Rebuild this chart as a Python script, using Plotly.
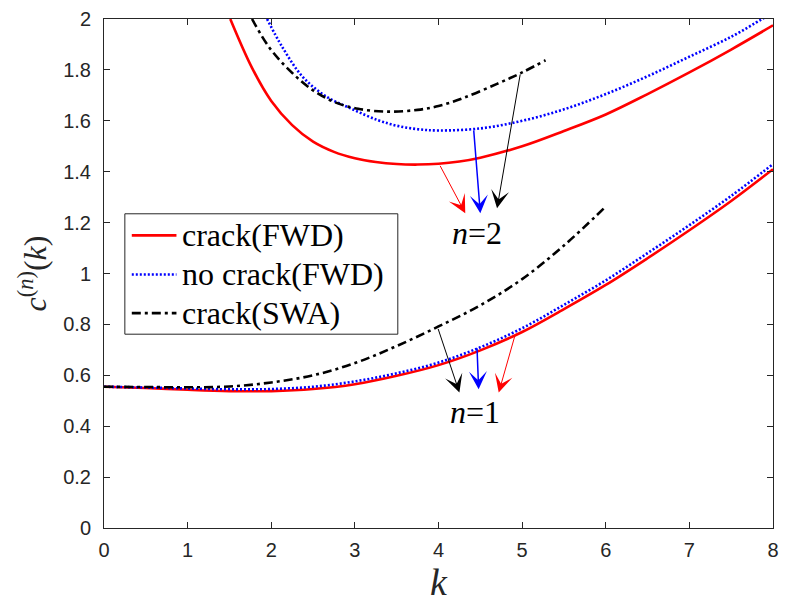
import plotly.graph_objects as go

# ---- dispersion curves, branch n = 2 ----
k_red2 = [1.51, 1.77, 2.0, 2.25, 2.5, 2.75, 3.0, 3.25, 3.5, 3.75, 4.0, 4.25, 4.5, 5.0, 5.5, 6.0, 6.5, 7.0, 7.5, 8.0]
c_red2 = [2.00, 1.808, 1.678, 1.583, 1.518, 1.478, 1.453, 1.438, 1.430, 1.428, 1.431, 1.440, 1.455, 1.500, 1.560, 1.625, 1.705, 1.790, 1.880, 1.975]

k_blue2 = [1.95, 2.13, 2.37, 2.64, 2.96, 3.28, 3.51, 3.75, 4.0, 4.5, 5.0, 5.5, 6.0, 6.5, 7.0, 7.5, 7.87, 8.0]
c_blue2 = [2.00, 1.891, 1.775, 1.699, 1.647, 1.602, 1.580, 1.567, 1.562, 1.570, 1.600, 1.645, 1.705, 1.775, 1.852, 1.930, 2.00, 2.025]

k_blk2 = [1.77, 1.97, 2.21, 2.48, 2.76, 3.04, 3.40, 3.75, 4.0, 4.3, 4.7, 5.0, 5.28]
c_blk2 = [2.00, 1.891, 1.801, 1.724, 1.673, 1.647, 1.636, 1.643, 1.658, 1.690, 1.745, 1.790, 1.838]

# ---- dispersion curves, branch n = 1 ----
k_red1 = [0, 0.5, 1.0, 1.5, 2.0, 2.5, 3.0, 3.5, 4.0, 4.5, 5.0, 5.5, 6.0, 6.5, 7.0, 7.5, 8.0]
c_red1 = [0.555, 0.550, 0.543, 0.538, 0.538, 0.546, 0.565, 0.598, 0.640, 0.698, 0.770, 0.860, 0.955, 1.060, 1.170, 1.285, 1.410]

k_blue1 = [0, 0.5, 1.0, 1.5, 2.0, 2.5, 3.0, 3.5, 4.0, 4.5, 5.0, 5.5, 6.0, 6.5, 7.0, 7.5, 8.0]
c_blue1 = [0.555, 0.552, 0.548, 0.545, 0.546, 0.555, 0.576, 0.608, 0.650, 0.710, 0.785, 0.877, 0.973, 1.080, 1.190, 1.305, 1.430]

k_blk1 = [0, 0.5, 1.0, 1.5, 2.0, 2.5, 3.0, 3.5, 4.0, 4.5, 5.0, 5.5, 6.0]
c_blk1 = [0.555, 0.554, 0.553, 0.556, 0.572, 0.600, 0.648, 0.715, 0.792, 0.875, 0.978, 1.110, 1.263]

x_ticks = [0, 1, 2, 3, 4, 5, 6, 7, 8]
y_ticks = [0, 0.2, 0.4, 0.6, 0.8, 1, 1.2, 1.4, 1.6, 1.8, 2]
y_tick_text = ["0", "0.2", "0.4", "0.6", "0.8", "1", "1.2", "1.4", "1.6", "1.8", "2"]

series_names = ["crack(FWD)", "no crack(FWD)", "crack(SWA)"]

# arrows: (tail k, tail c, head k, head c, colour, width)
arrows = [
    (4.01, 1.429, 4.32, 1.237, "#ff0000", 1.0),
    (4.42, 1.568, 4.50, 1.237, "#0000ff", 1.5),
    (4.98, 1.788, 4.70, 1.256, "#000000", 1.0),
    (3.99, 0.788, 4.25, 0.532, "#000000", 1.0),
    (4.46, 0.712, 4.48, 0.545, "#0000ff", 1.5),
    (4.92, 0.763, 4.72, 0.532, "#ff0000", 1.0),
]
labels = [(4.46, 1.158, "<i>n</i>=2"), (4.44, 0.455, "<i>n</i>=1")]

SERIF = "Liberation Serif, Times New Roman, Tinos, DejaVu Serif, serif"
SANS = "Liberation Sans, Arial, Helvetica, sans-serif"
RED, BLUE, BLACK = "#ff0000", "#0000ff", "#000000"
LW = 2.6
DOT = "2px,2px"
DASHDOT = "9px,4px,3px,4px"

styles = [dict(color=RED, width=LW), dict(color=BLUE, width=LW, dash=DOT),
          dict(color=BLACK, width=LW, dash=DASHDOT)]

W, H = 787, 610
M = dict(l=104, r=9, t=8, b=82)
PW, PH = W - M["l"] - M["r"], H - M["t"] - M["b"]


def px(xp):
    return (xp - M["l"]) / PW


def py(yp):
    return (H - M["b"] - yp) / PH


fig = go.Figure()

for (kk, cc), st in zip([(k_red2, c_red2), (k_blue2, c_blue2), (k_blk2, c_blk2)], styles):
    fig.add_trace(go.Scatter(x=kk, y=cc, mode="lines", showlegend=False,
                             line=dict(shape="spline", **st)))
for (kk, cc), st in zip([(k_red1, c_red1), (k_blue1, c_blue1), (k_blk1, c_blk1)], styles):
    fig.add_trace(go.Scatter(x=kk, y=cc, mode="lines", showlegend=False,
                             line=dict(shape="spline", **st)))

for tk, tc, hk, hc, col, w in arrows:
    fig.add_annotation(x=hk, y=hc, ax=tk, ay=tc, xref="x", yref="y", axref="x", ayref="y",
                       text="", showarrow=True, arrowhead=3, arrowsize=3.0 / w,
                       arrowwidth=w, arrowcolor=col, standoff=0)

for lk, lc, txt in labels:
    fig.add_annotation(x=lk, y=lc, xref="x", yref="y", text=txt, showarrow=False,
                       font=dict(family=SERIF, size=32, color="#000000"))

# legend box drawn in paper space
fig.add_shape(type="rect", xref="paper", yref="paper",
              x0=px(125), x1=px(400), y0=py(330), y1=py(207),
              line=dict(color="#262626", width=1), fillcolor="white", layer="above")
row_y = [229, 269, 308.5]
for name, st, ry in zip(series_names, styles, row_y):
    fig.add_shape(type="line", xref="paper", yref="paper",
                  x0=px(132), x1=px(177), y0=py(ry), y1=py(ry),
                  line=st, layer="above")
    fig.add_annotation(x=px(181), y=py(ry), xref="paper", yref="paper",
                       xanchor="left", yanchor="middle", text=name, showarrow=False,
                       font=dict(family=SERIF, size=32, color="#000000"))

axis_common = dict(
    showline=True, linecolor="#262626", linewidth=1, mirror="ticks",
    ticks="inside", ticklen=6, tickcolor="#262626", tickwidth=1,
    showgrid=False, zeroline=False, ticklabeloverflow="allow",
    tickfont=dict(family=SANS, size=20, color="#262626"),
)

fig.update_xaxes(range=[0, 8], tickvals=x_ticks, ticklabelstandoff=4,
                 title=dict(text="<i>k</i>", standoff=4,
                            font=dict(family=SERIF, size=38, color="#262626")),
                 **axis_common)
fig.update_yaxes(range=[0, 2], tickvals=y_ticks, ticktext=y_tick_text, ticklabelstandoff=8,
                 title=dict(text="<i>c</i><sup>(<i>n</i>)</sup>(<i>k</i>)", standoff=6,
                            font=dict(family=SERIF, size=32, color="#262626")),
                 **axis_common)

fig.update_layout(
    width=W, height=H, margin=M,
    paper_bgcolor="white", plot_bgcolor="white",
    showlegend=False,
)

fig.write_html("out.html")
